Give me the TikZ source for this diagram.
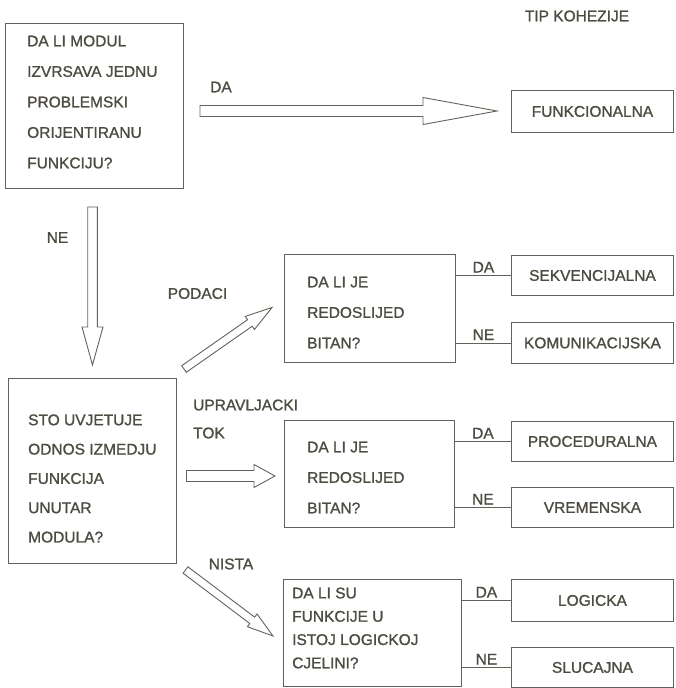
\documentclass[tikz,border=0pt]{standalone}
\usepackage{fontspec}
\setmainfont{Liberation Sans}
\newfontfamily\heavysans{Liberation Sans}[FakeBold=1.2]
\usetikzlibrary{calc}
\definecolor{ink}{RGB}{78,76,66}
\definecolor{linec}{RGB}{100,98,88}
% block (hollow) arrow: tail, tip, shaft half width, head half width, head length
\newcommand{\blockarrow}[5]{%
  \draw[blk] ($(#1)!#3!90:(#2)$) -- ($(#2)!#5!(#1)!#3!-90:(#1)$) -- ($(#2)!#5!(#1)!#4!-90:(#1)$) -- (#2)
    -- ($(#2)!#5!(#1)!#4!90:(#1)$) -- ($(#2)!#5!(#1)!#3!90:(#1)$) -- ($(#1)!#3!-90:(#2)$) -- cycle;}
\begin{document}
\begin{tikzpicture}[x=1pt,y=-1pt,
  every node/.style={text=ink, font=\heavysans\fontsize{15.5}{18}\selectfont},
  box/.style={draw=linec, line width=0.9pt, rectangle, anchor=north west, inner sep=0pt},
  tbox/.style={box, minimum width=162pt},
  qtext/.style={anchor=west, inner sep=0pt, align=left},
  blk/.style={draw=linec, line width=0.9pt, line join=miter},
  conn/.style={draw=linec, line width=0.9pt},
  lab/.style={inner sep=0pt}]
\useasboundingbox (0,0) rectangle (675,688);

% title
\node[lab] (title) at (577,16) {TIP KOHEZIJE};

% decision boxes
\node[box, minimum width=178pt, minimum height=165pt] (q1) at (5,23) {};
\node[qtext, font=\heavysans\fontsize{15.5}{30.5}\selectfont] (q1t) at (27,102)
  {DA LI MODUL\\IZVRSAVA JEDNU\\PROBLEMSKI\\ORIJENTIRANU\\FUNKCIJU?};

\node[box, minimum width=168pt, minimum height=185pt] (q2) at (8,378) {};
\node[qtext, font=\heavysans\fontsize{15.5}{29.3}\selectfont] (q2t) at (28,478.5)
  {STO UVJETUJE\\ODNOS IZMEDJU\\FUNKCIJA\\UNUTAR\\MODULA?};

\node[box, minimum width=171pt, minimum height=108pt] (q3) at (284,254) {};
\node[qtext, font=\heavysans\fontsize{15.5}{30.5}\selectfont] (q3t) at (307,312.5)
  {DA LI JE\\REDOSLIJED\\BITAN?};

\node[box, minimum width=170pt, minimum height=107pt] (q4) at (284,420) {};
\node[qtext, font=\heavysans\fontsize{15.5}{30.5}\selectfont] (q4t) at (307,477.5)
  {DA LI JE\\REDOSLIJED\\BITAN?};

\node[box, minimum width=178pt, minimum height=107pt] (q5) at (283,579) {};
\node[qtext, font=\heavysans\fontsize{15.5}{23.3}\selectfont] (q5t) at (292,628)
  {DA LI SU\\FUNKCIJE U\\ISTOJ LOGICKOJ\\CJELINI?};

% result boxes
\node[tbox, minimum height=42pt] (f1) at (511,90)  {FUNKCIONALNA};
\node[tbox, minimum height=40pt] (s1) at (511,255) {SEKVENCIJALNA};
\node[tbox, minimum height=41pt] (k1) at (511,322) {KOMUNIKACIJSKA};
\node[tbox, minimum height=40pt] (p1) at (511,421) {PROCEDURALNA};
\node[tbox, minimum height=40pt] (v1) at (511,487) {VREMENSKA};
\node[tbox, minimum height=42pt] (l1) at (511,579) {LOGICKA};
\node[tbox, minimum height=40pt] (c1) at (511,647) {SLUCAJNA};

% DA / NE connectors
\draw[conn] (q3.east |- s1.west) -- node[above=2.5pt, lab] (ld1) {DA} (s1.west);
\draw[conn] (q3.east |- k1.west) -- node[above=2.5pt, lab] (ln1) {NE} (k1.west);
\draw[conn] (q4.east |- p1.west) -- node[above=2.5pt, lab] (ld2) {DA} (p1.west);
\draw[conn] (q4.east |- v1.west) -- node[above=2.5pt, lab] (ln2) {NE} (v1.west);
\draw[conn] (q5.east |- l1.west) -- node[above=2.5pt, lab] (ld3) {DA} (l1.west);
\draw[conn] (q5.east |- c1.west) -- node[above=2.5pt, lab] (ln3) {NE} (c1.west);

% block arrows
\coordinate (daT) at (200,111);
\coordinate (daH) at (497,111);
\blockarrow{daT}{daH}{5.5pt}{13.5pt}{74pt}
\node[lab] (dalab) at (221,87) {DA};

\coordinate (neT) at (92.5,207);
\coordinate (neH) at (92.5,365);
\blockarrow{neT}{neH}{4.8pt}{10.5pt}{38pt}
\node[lab] (nelab) at (57.5,237.5) {NE};

\coordinate (poT) at (184,369);
\coordinate (poH) at (272,307.5);
\blockarrow{poT}{poH}{4pt}{8pt}{27pt}
\node[lab] (polab) at (197.5,293.5) {PODACI};

\coordinate (upT) at (186.5,476);
\coordinate (upH) at (275,476);
\blockarrow{upT}{upH}{5.5pt}{11.5pt}{21pt}
\node[lab, anchor=west] (uplab) at (193,405) {UPRAVLJACKI};
\node[lab, anchor=west] (toklab) at (193,433) {TOK};

\coordinate (niT) at (185.5,570);
\coordinate (niH) at (273,636);
\blockarrow{niT}{niH}{4pt}{8pt}{26pt}
\node[lab] (nilab) at (231,564) {NISTA};
\end{tikzpicture}
\end{document}
